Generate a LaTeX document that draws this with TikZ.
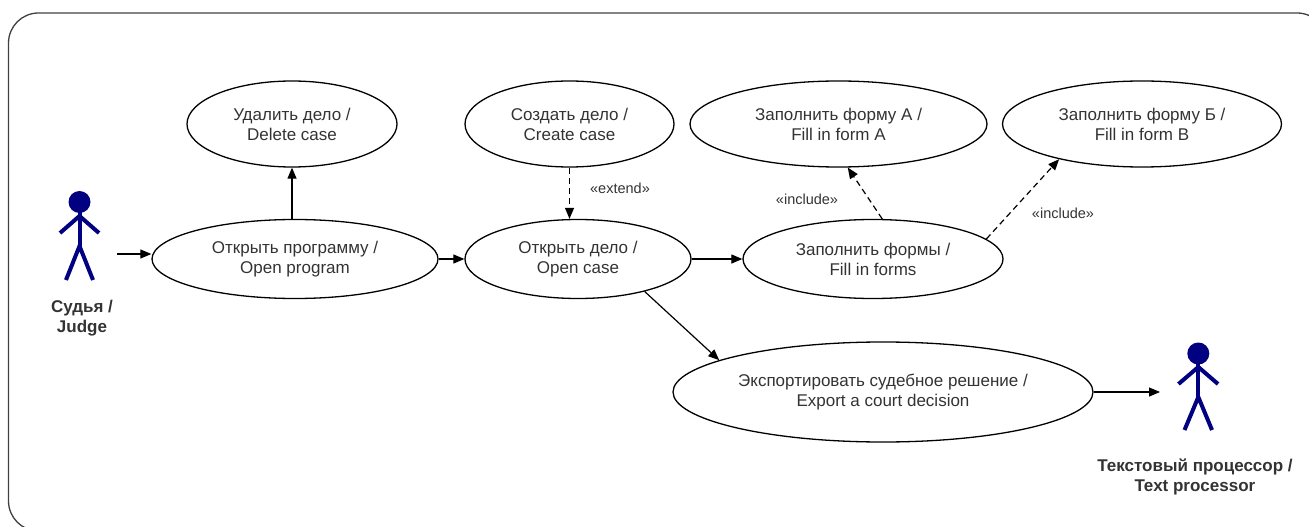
\documentclass[tikz,border=0pt]{standalone}
\usepackage{fontspec}
\setmainfont{Liberation Sans}
\usetikzlibrary{shapes.geometric,arrows.meta}
\definecolor{txt}{HTML}{333333}
\definecolor{actorblue}{HTML}{000080}
\definecolor{frame}{HTML}{404040}
\begin{document}
\begin{tikzpicture}[x=1bp,y=-1bp,
  uc/.style={ellipse,draw=black,line width=1.3bp,inner sep=0pt,align=center,text=txt,
    font=\fontsize{17bp}{20bp}\selectfont},
  arr/.style={line width=1.2bp,-{Triangle[length=11bp,width=9bp]}},
  darr/.style={arr,dash pattern=on 6bp off 4bp},
  stereo/.style={text=txt,font=\fontsize{14.5bp}{17bp}\selectfont,inner sep=0pt},
  actorline/.style={draw=actorblue,line width=4bp},
  alabel/.style={text=txt,font=\bfseries\fontsize{17bp}{20bp}\selectfont,align=center,inner sep=0pt}]
\useasboundingbox (0,0) rectangle (1309,527);
\begin{scope}
  \clip (0,0) rectangle (1309,527);
  \draw[frame,line width=1.3bp,rounded corners=30bp] (8.5,13) rectangle (1327,531);
\end{scope}

% use cases
\node[uc,minimum width=210bp,minimum height=86bp] (del) at (292,124) {Удалить дело /\\Delete case};
\node[uc,minimum width=209bp,minimum height=86bp] (create) at (569.5,124) {Создать дело /\\Create case};
\node[uc,minimum width=297bp,minimum height=86bp] (forma) at (838.5,124) {Заполнить форму А /\\Fill in form A};
\node[uc,minimum width=279bp,minimum height=86bp] (formb) at (1142,124) {Заполнить форму Б /\\Fill in form B};
\node[uc,minimum width=286bp,minimum height=79bp] (prog) at (295,259) {Открыть программу /\\Open program};
\node[uc,minimum width=226bp,minimum height=79bp] (ocase) at (578,259) {Открыть дело /\\Open case};
\node[uc,minimum width=260bp,minimum height=79bp] (fill) at (873,259) {Заполнить формы /\\Fill in forms};
\node[uc,minimum width=420bp,minimum height=100bp] (export) at (883,392) {Экспортировать судебное решение /\\Export a court decision};

% actor: judge
\fill[actorblue] (79.5,202) circle[radius=11];
\draw[actorline] (79.5,210) -- (79.5,246);
\draw[actorline] (60,233) -- (79.5,216) -- (99,233);
\draw[actorline] (66,280) -- (79.5,246) -- (93,280);
\node[alabel] (judge) at (82,318) {Судья /\\Judge};

% actor: text processor
\fill[actorblue] (1198.3,353.5) circle[radius=11];
\draw[actorline] (1198.3,361) -- (1198.3,397);
\draw[actorline] (1178.5,384) -- (1198.3,367) -- (1218,384);
\draw[actorline] (1184.5,430) -- (1198.3,397) -- (1212,430);
\node[alabel] (tp) at (1195,477) {Текстовый процессор /\\Text processor};

% connectors
\coordinate (jarr) at (117,254);
\coordinate (tparr) at (1160,392);
\draw[arr] (jarr) -- (jarr -| prog.west);
\draw[arr] (del.south |- prog.north) -- (del.south);
\draw[arr] (prog.east) -- (ocase.west);
\draw[darr] (create.south) -- (create.south |- ocase.north);
\draw[arr] (ocase.east) -- (fill.west);
\draw[darr] (fill.77) -- (forma.-78);
\draw[darr] (fill.10.5) -- (formb.-157);
\draw[arr] (ocase.-26.6) -- (export.169.5);
\draw[arr] (export.east) -- (tparr);

% stereotypes
\node[stereo] (ext) at (620,188) {«extend»};
\node[stereo] (inc1) at (807,199) {«include»};
\node[stereo] (inc2) at (1063,213) {«include»};
\end{tikzpicture}
\end{document}
